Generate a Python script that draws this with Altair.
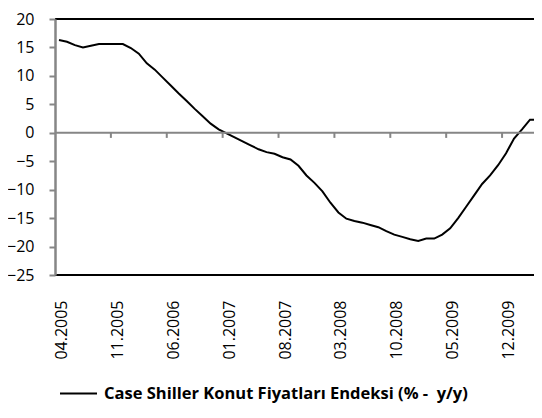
import altair as alt
import pandas as pd

series_name = "Case Shiller Konut Fiyatları Endeksi (% -\u00a0 y/y)"

# monthly values, 04.2005 ... 04.2010
values = [16.3, 16.0, 15.4, 15.0, 15.3, 15.6, 15.6, 15.6, 15.6, 14.9, 13.9, 12.2, 11.1,
          9.7, 8.3, 6.9, 5.6, 4.2, 2.9, 1.6,
          0.6, -0.1, -0.8, -1.5, -2.2, -2.9, -3.4, -3.7, -4.3, -4.7,
          -5.8, -7.5, -8.8, -10.3, -12.3, -14.0, -15.1, -15.5, -15.8, -16.2,
          -16.6, -17.3, -17.9, -18.3, -18.7, -19.0, -18.6, -18.6, -17.9, -16.8,
          -15.0, -13.0, -11.0, -9.0, -7.5, -5.7, -3.6, -1.0, 0.6, 2.3, 2.3]

tick_labels = ["04.2005", "11.2005", "06.2006", "01.2007", "08.2007",
               "03.2008", "10.2008", "05.2009", "12.2009"]
label_step = 7
y_ticks = [-25, -20, -15, -10, -5, 0, 5, 10, 15, 20]

n = len(values)
df = pd.DataFrame({"i": list(range(n)), "v": values, "series": [series_name] * n})
boundaries = [k * label_step - 0.5 for k in range(1, n) if k * label_step - 0.5 < n - 1]
tick_df = pd.DataFrame({"b": boundaries, "y0": [0.0] * len(boundaries),
                        "y1": [-0.9] * len(boundaries)})

GRAY = "#868686"
FONT = "Open Sans"

label_expr = "[" + ",".join(f"'{t}'" for t in tick_labels) + "][round(datum.value/%d)]" % label_step

# the last month runs off the right edge of the window, as in the reference
xscale = alt.Scale(domain=[-0.5, n - 1.5], nice=False, zero=False)
yscale = alt.Scale(domain=[-25, 20], nice=False, zero=False)

x_axis = alt.Axis(values=[k * label_step for k in range(len(tick_labels))],
                  labelExpr=label_expr, labelAngle=270, labelAlign="right",
                  labelBaseline="middle", ticks=False, domain=False, grid=False,
                  labelPadding=25, labelOffset=2.5, title=None, labelFont=FONT,
                  labelFontSize=16, labelColor="black", labelOverlap=False)
y_axis = alt.Axis(values=y_ticks, domainColor=GRAY, domainWidth=2.5,
                  tickColor=GRAY, tickWidth=2, tickSize=6, labelPadding=15, grid=False,
                  title=None, labelFont=FONT, labelFontSize=16, labelColor="black",
                  zindex=1, labelOverlap=False)

border = alt.Chart(pd.DataFrame({"y": [20, -25]})).mark_rule(
    color="black", strokeWidth=2).encode(y=alt.Y("y:Q", scale=yscale, axis=y_axis))

zero = alt.Chart(pd.DataFrame({"y": [0]})).mark_rule(
    color=GRAY, strokeWidth=2).encode(y=alt.Y("y:Q", scale=yscale, axis=y_axis))

ticks = alt.Chart(tick_df).mark_rule(color=GRAY, strokeWidth=2).encode(
    x=alt.X("b:Q", scale=xscale, axis=x_axis), y=alt.Y("y0:Q", scale=yscale, axis=y_axis),
    y2="y1:Q")

line = alt.Chart(df).mark_line(strokeWidth=2, clip=True).encode(
    x=alt.X("i:Q", scale=xscale, axis=x_axis),
    y=alt.Y("v:Q", scale=yscale, axis=y_axis),
    color=alt.Color("series:N", scale=alt.Scale(range=["black"]),
                    legend=alt.Legend(title=None, orient="none", legendX=4, legendY=355,
                                      symbolType="stroke", symbolSize=1369,
                                      symbolStrokeWidth=2, labelFont=FONT,
                                      labelFontWeight="bold", labelFontSize=16.5,
                                      labelColor="black", labelLimit=0, labelOffset=6)))

chart = alt.layer(line, border, zero, ticks).properties(
    width=479, height=256,
    autosize=alt.AutoSizeParams(type="none"),
    padding={"left": 47, "top": 11, "right": 0, "bottom": 131},
).configure_view(stroke=None).configure_axis(grid=False)

chart.save("out.html", embed_options={"renderer": "svg", "actions": False})
